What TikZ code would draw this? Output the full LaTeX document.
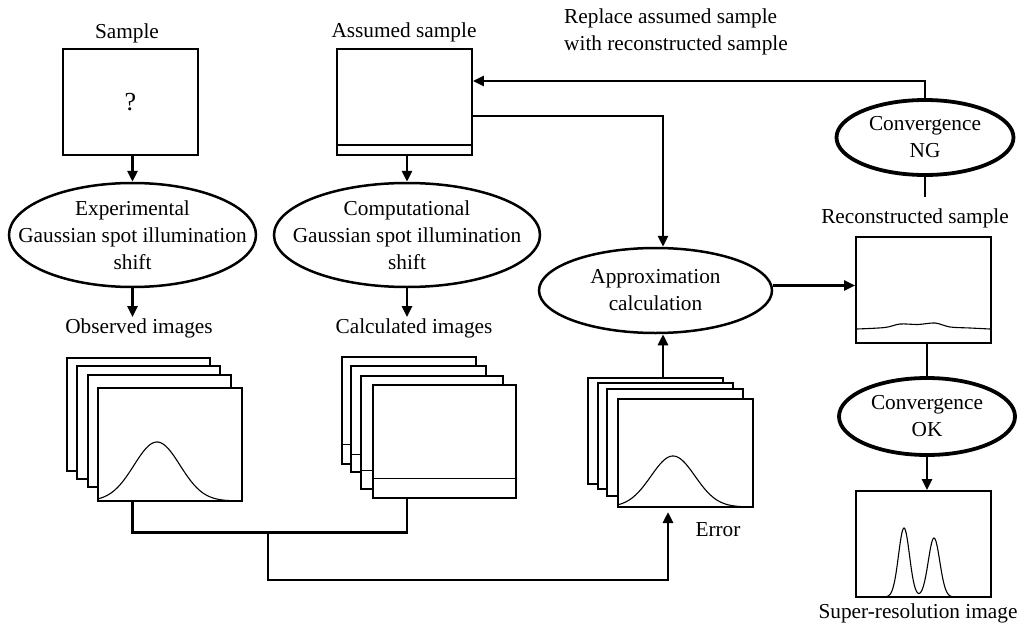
\documentclass[tikz,border=0pt]{standalone}
\usepackage{fontspec}
\setmainfont{Liberation Serif}
\usetikzlibrary{arrows.meta,shapes.geometric}
\begin{document}
\begin{tikzpicture}[x=1pt,y=-1pt,
  txt/.style={font=\fontsize{21.3}{27}\selectfont, inner sep=1pt, align=center},
  box/.style={draw, line width=1.9pt, rectangle, inner sep=0pt, fill=white},
  img/.style={draw, line width=1.7pt, rectangle, inner sep=0pt, fill=white},
  oval/.style={draw, line width=2.5pt, ellipse, inner sep=0pt},
  conv/.style={oval, line width=3.8pt},
  conn/.style={line width=2.8pt},
  arr/.style={conn, -{Triangle[length=11pt,width=10pt]}},
  curve/.style={line width=1.1pt}
]
\useasboundingbox (0,0) rectangle (1020,626);

% top labels
\node[txt] (samplelbl) at (127,33) {Sample};
\node[txt] (assumedlbl) at (404,32) {Assumed sample};
\node[txt, anchor=west, align=left] (replacelbl) at (563,32) {Replace assumed sample\\with reconstructed sample};

% sample boxes
\node[box, minimum width=135pt, minimum height=106pt, font=\fontsize{26}{30}\selectfont] (sample) at (130.5,102) {?};
\node[box, minimum width=135pt, minimum height=106pt] (assumed) at (404.5,102) {};
\draw[line width=1.4pt] ([yshift=11pt]assumed.south west) -- ([yshift=11pt]assumed.south east);

% ellipses
\node[oval, minimum width=247pt, minimum height=104pt, label={[txt]center:{Experimental\\Gaussian spot illumination\\shift}}] (ell1) at (132.5,235) {};
\node[oval, minimum width=266pt, minimum height=104pt, label={[txt]center:{Computational\\Gaussian spot illumination\\shift}}] (ell2) at (407,235) {};
\node[oval, minimum width=233pt, minimum height=85pt, label={[txt]center:{Approximation\\calculation}}] (approx) at (655.5,290.5) {};
\node[conv, minimum width=177pt, minimum height=75pt, label={[txt]center:{Convergence\\NG}}] (ng) at (925,137.5) {};
\node[conv, minimum width=176pt, minimum height=77pt, label={[txt]center:{Convergence\\OK}}] (ok) at (927,416.5) {};

% middle labels
\node[txt] (obslbl) at (139,328) {Observed images};
\node[txt] (calclbl) at (414,328) {Calculated images};
\node[txt] (reconlbl) at (915,218) {Reconstructed sample};
\node[txt] (errlbl) at (718,530) {Error};
\node[txt] (superlbl) at (918,613) {Super-resolution image};

% observed stack
\node[img, minimum width=143pt, minimum height=113pt] (obs1) at (138.5,414.5) {};
\node[img, minimum width=143pt, minimum height=113pt] (obs2) at (148.5,422.5) {};
\node[img, minimum width=143pt, minimum height=112pt] (obs3) at (159.5,431) {};
\node[img, minimum width=144pt, minimum height=113pt] (obs4) at (170,444.5) {};
\draw[curve] plot[domain=98:242, samples=90, smooth] (\x, {501-59*exp(-((\x-157)^2)/1058)});

% calculated stack
\node[img, minimum width=134pt, minimum height=107pt] (calc1) at (409,410.5) {};
\draw[line width=1.1pt] ([yshift=20pt]calc1.south west) -- ([yshift=20pt]calc1.south east);
\node[img, minimum width=135pt, minimum height=106pt] (calc2) at (418.5,419) {};
\draw[line width=1.1pt] ([yshift=18pt]calc2.south west) -- ([yshift=18pt]calc2.south east);
\node[img, minimum width=142pt, minimum height=113pt] (calc3) at (432,432.5) {};
\draw[line width=1.1pt] ([yshift=19pt]calc3.south west) -- ([yshift=19pt]calc3.south east);
\node[img, minimum width=143pt, minimum height=113pt] (calc4) at (444.5,441.5) {};
\draw[line width=1.1pt] ([yshift=20pt]calc4.south west) -- ([yshift=20pt]calc4.south east);

% error stack
\node[img, minimum width=135pt, minimum height=106pt] (err1) at (655.5,431) {};
\node[img, minimum width=135pt, minimum height=106pt] (err2) at (665.5,436) {};
\node[img, minimum width=136pt, minimum height=107pt] (err3) at (675,442.5) {};
\node[img, minimum width=135pt, minimum height=108pt] (err4) at (685.5,453) {};
\draw[curve] plot[domain=618:753, samples=90, smooth] (\x, {507-51*exp(-((\x-673)^2)/968)});

% reconstructed and super-resolution boxes
\node[box, minimum width=135pt, minimum height=106pt] (recon) at (923.5,290) {};
\draw[curve] plot[smooth] coordinates {(857,329) (885,327.5) (900,324) (918,324.5) (935,323) (950,327) (970,328) (990,329)};
\node[box, minimum width=135pt, minimum height=106pt] (superres) at (923.5,544) {};
\draw[curve] plot[domain=878:962, samples=120, smooth] (\x, {597-69*exp(-((\x-904)^2)/60)-59*exp(-((\x-934)^2)/66)});

% connectors
\draw[arr] (sample.south -| ell1.north) -- (ell1.north);
\draw[arr] (ell1.south) -- (ell1.south |- obslbl.north);
\draw[arr] (assumed.south -| ell2.north) -- (ell2.north);
\draw[arr] (ell2.south) -- (ell2.south |- calclbl.north);

\draw[conn] (obs4.south -| ell1.south) -- ++(0,31) coordinate (jl) -| (calc4.south -| ell2.south);
\coordinate (jm) at (268,532);
\coordinate (errin) at (668,512);
\draw[arr] (jm) -- (268,580) -| (errin);

\draw[arr] ([xshift=7.5pt]approx.south |- err1.north) -- ([xshift=7.5pt]approx.south);
\draw[arr] ([yshift=-14pt]assumed.east) -| ([xshift=7.5pt]approx.north);
\draw[arr] (ng.north) |- ([yshift=21pt]assumed.east);
\coordinate (ngend) at (925,197);
\draw[conn] (ng.south) -- (ngend);
\draw[arr] ([yshift=5pt]approx.east) -- ([yshift=5pt]approx.east -| recon.west);
\draw[conn] (recon.south -| ok.north) -- (ok.north);
\draw[arr] (ok.south) -- (ok.south |- superres.north);
\end{tikzpicture}
\end{document}
